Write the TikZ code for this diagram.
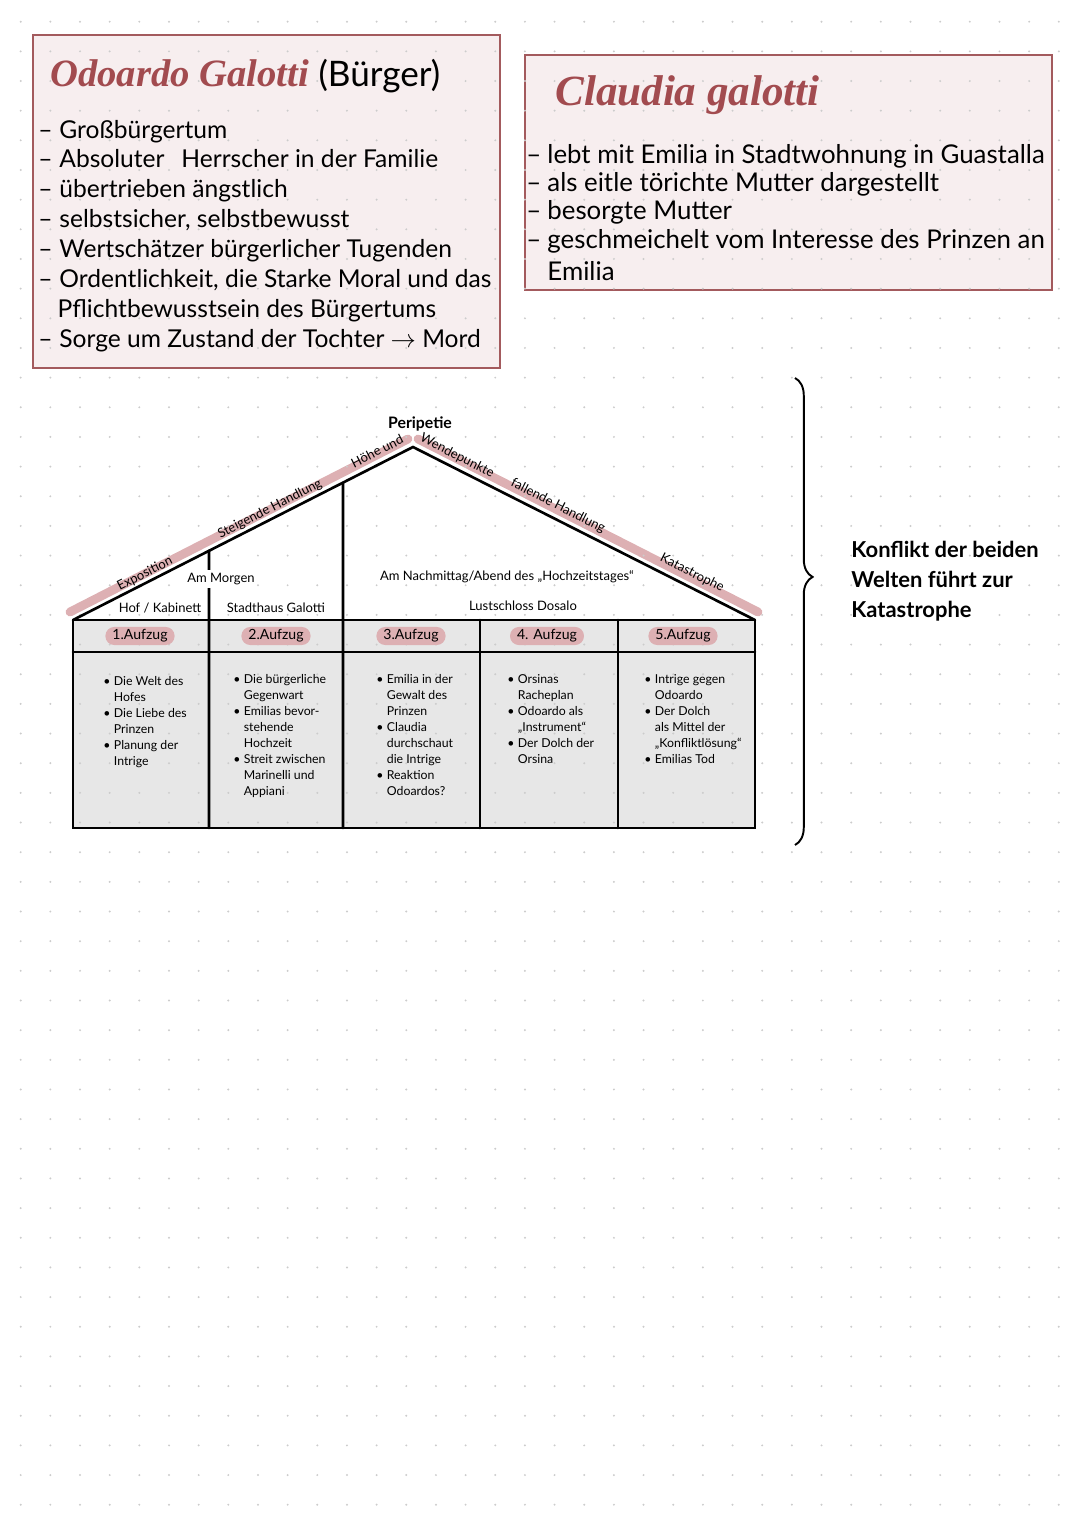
\documentclass[tikz,border=0pt]{standalone}
\usepackage{fontspec}
\setmainfont{Lato}
\newfontfamily\titlefont{Liberation Serif}
\usetikzlibrary{positioning, calc, decorations.pathreplacing}

\definecolor{boxfill}{HTML}{F7EEEF}
\definecolor{boxline}{HTML}{A35A5D}
\definecolor{titlered}{HTML}{A24B4F}
\definecolor{roofpink}{HTML}{DDB0B3}
\definecolor{tablegrey}{HTML}{E7E7E7}
\definecolor{griddot}{HTML}{CCCCCC}

\tikzset{
  charbox/.style={draw=boxline, fill=boxfill, line width=0.9pt},
  charname/.style={anchor=base west, inner sep=0pt, text=titlered,
    font=\titlefont\bfseries\itshape\fontsize{22}{26}\selectfont},
  listline/.style={anchor=base west, inner sep=0pt, font=\fontsize{14}{17}\selectfont},
  rooflabel/.style={inner sep=0pt, font=\fontsize{7.4}{8}\selectfont},
  actlabel/.style={fill=roofpink, rounded corners=5pt, inner xsep=4pt, inner ysep=1.5pt,
    font=\fontsize{8}{9}\selectfont},
  actlist/.style={anchor=north west, align=left, inner sep=0pt, font=\fontsize{7}{9.1}\selectfont},
  housewall/.style={line width=1.5pt, line cap=round}
}
\newcommand{\bul}{\makebox[6pt][l]{\textbullet}}
\newcommand{\ind}{\hspace*{6pt}}
\newcommand{\strich}{\makebox[12pt][l]{–}}

\begin{document}
\begin{tikzpicture}[x=0.02cm, y=-0.02cm]
\useasboundingbox (0,0) rectangle (1080,1525);

% the two character boxes
\draw[charbox] (33,35) rectangle (500,368);
\draw[charbox] (525,55) rectangle (1052,290);

% house: roof band, table fill
\coordinate (eaveL) at (73,620);
\coordinate (peak) at (413,447);
\coordinate (eaveR) at (755,620);
\fill[tablegrey] (eaveL) rectangle (755,828);
\draw[roofpink, line width=5pt, line cap=round] ($(eaveL)+(-3,-8)$) -- ($(peak)+(-5,-8)$);
\draw[roofpink, line width=5pt, line cap=round] ($(peak)+(5,-8)$) -- ($(eaveR)+(3,-8)$);

% dot grid
\foreach \i in {0,...,35}
  \foreach \j in {0,...,50}
    \fill[griddot] (20.7+\i*29.66, 21.7+\j*29.66) circle (1.1);

% Odoardo
\node[charname] (odoardo) at (50,86) {Odoardo Galotti};
\node[right=5pt of odoardo.base east, anchor=base west, inner sep=0pt,
  font=\fontsize{20}{22}\selectfont] (buerger) {(Bürger)};
\foreach \yy/\txt [count=\i] in {
  138/{\strich Großbürgertum},
  167/{\strich Absoluter\hspace{6pt} Herrscher in der Familie},
  197/{\strich übertrieben ängstlich},
  227/{\strich selbstsicher, selbstbewusst},
  257/{\strich Wertschätzer bürgerlicher Tugenden},
  287/{\strich Ordentlichkeit, die Starke Moral und das},
  317/{\hspace*{11pt}Pflichtbewusstsein des Bürgertums},
  347/{\strich Sorge um Zustand der Tochter $\rightarrow$ Mord}}
  \node[listline] (odo\i) at (38,\yy) {\txt};

% Claudia
\node[charname, font=\titlefont\bfseries\itshape\fontsize{24.5}{28}\selectfont] (claudia) at (555,105) {Claudia galotti};
\foreach \yy/\txt [count=\i] in {
  163/{\strich lebt mit Emilia in Stadtwohnung in Guastalla},
  191/{\strich als eitle törichte Mutter dargestellt},
  219/{\strich besorgte Mutter},
  248/{\strich geschmeichelt vom Interesse des Prinzen an},
  280/{\hspace*{12pt}Emilia}}
  \node[listline, font=\fontsize{14.7}{17}\selectfont] (cla\i) at (526,\yy) {\txt};

% house lines
\coordinate (wallA) at ($(eaveL)!0.4!(peak)$);
\coordinate (wallB) at ($(eaveL)!0.794!(peak)$);
\draw[housewall] (eaveL) -- (peak) -- (eaveR);
\draw[housewall] (eaveL) rectangle (755,828);
\draw[housewall] (73,652) -- (755,652);
\draw[housewall] (wallA) -- (209,828);
\draw[housewall] (wallB) -- (343,828);
\draw[housewall] (480,620) -- (480,828);
\draw[housewall] (618,620) -- (618,828);

% roof labels
\node[rooflabel, rotate=27] (expo) at (145,574) {Exposition};
\node[rooflabel, rotate=27] (steig) at (270,509) {Steigende Handlung};
\node[rooflabel, rotate=27] (hoehe) at (377,451) {Höhe und};
\node[inner sep=0pt, font=\bfseries\fontsize{9}{10}\selectfont] (peri) at (420,424) {Peripetie};
\node[rooflabel, rotate=-27] (wende) at (457,456) {Wendepunkte};
\node[rooflabel, rotate=-27] (fall) at (558,506) {fallende Handlung};
\node[rooflabel, rotate=-27] (kata) at (692,573) {Katastrophe};

% places and times
\node[rooflabel, fill=white, inner ysep=2pt] (morgen) at (221,579) {Am Morgen};
\node[rooflabel] (hof) at (160,608) {Hof / Kabinett};
\node[rooflabel] (stadt) at (276,608) {Stadthaus Galotti};
\node[rooflabel] (nachm) at (507,577) {Am Nachmittag/Abend des „Hochzeitstages“};
\node[rooflabel] (lust) at (523,606) {Lustschloss Dosalo};

% acts
\foreach \cx/\lbl [count=\i] in {140/1.Aufzug, 276/2.Aufzug, 411/3.Aufzug, 547/4. Aufzug, 683/5.Aufzug}
  \node[actlabel] (act\i) at (\cx,636) {\lbl};

\node[actlist] (list1) at (103,676) {\bul Die Welt des\\ \ind Hofes\\ \bul Die Liebe des\\ \ind Prinzen\\ \bul Planung der\\ \ind Intrige};
\node[actlist] (list2) at (233,674) {\bul Die bürgerliche\\ \ind Gegenwart\\ \bul Emilias bevor-\\ \ind stehende\\ \ind Hochzeit\\ \bul Streit zwischen\\ \ind Marinelli und\\ \ind Appiani};
\node[actlist] (list3) at (376,674) {\bul Emilia in der\\ \ind Gewalt des\\ \ind Prinzen\\ \bul Claudia\\ \ind durchschaut\\ \ind die Intrige\\ \bul Reaktion\\ \ind Odoardos?};
\node[actlist] (list4) at (507,674) {\bul Orsinas\\ \ind Racheplan\\ \bul Odoardo als\\ \ind „Instrument“\\ \bul Der Dolch der\\ \ind Orsina};
\node[actlist] (list5) at (644,674) {\bul Intrige gegen\\ \ind Odoardo\\ \bul Der Dolch\\ \ind als Mittel der\\ \ind „Konfliktlösung“\\ \bul Emilias Tod};

% brace and conclusion
\coordinate (bracetop) at (795,378);
\coordinate (bracebot) at (795,845);
\coordinate (bracetip) at (815,581);
\draw[decorate, decoration={brace, amplitude=10pt, aspect=0.426}, line width=1.1pt] (bracetop) -- (bracebot);
\node[right=0.72cm of bracetip, align=left, inner sep=0pt,
  font=\bfseries\fontsize{12.5}{17}\selectfont] (konflikt) {Konflikt der beiden\\ Welten führt zur\\ Katastrophe};
\end{tikzpicture}
\end{document}
